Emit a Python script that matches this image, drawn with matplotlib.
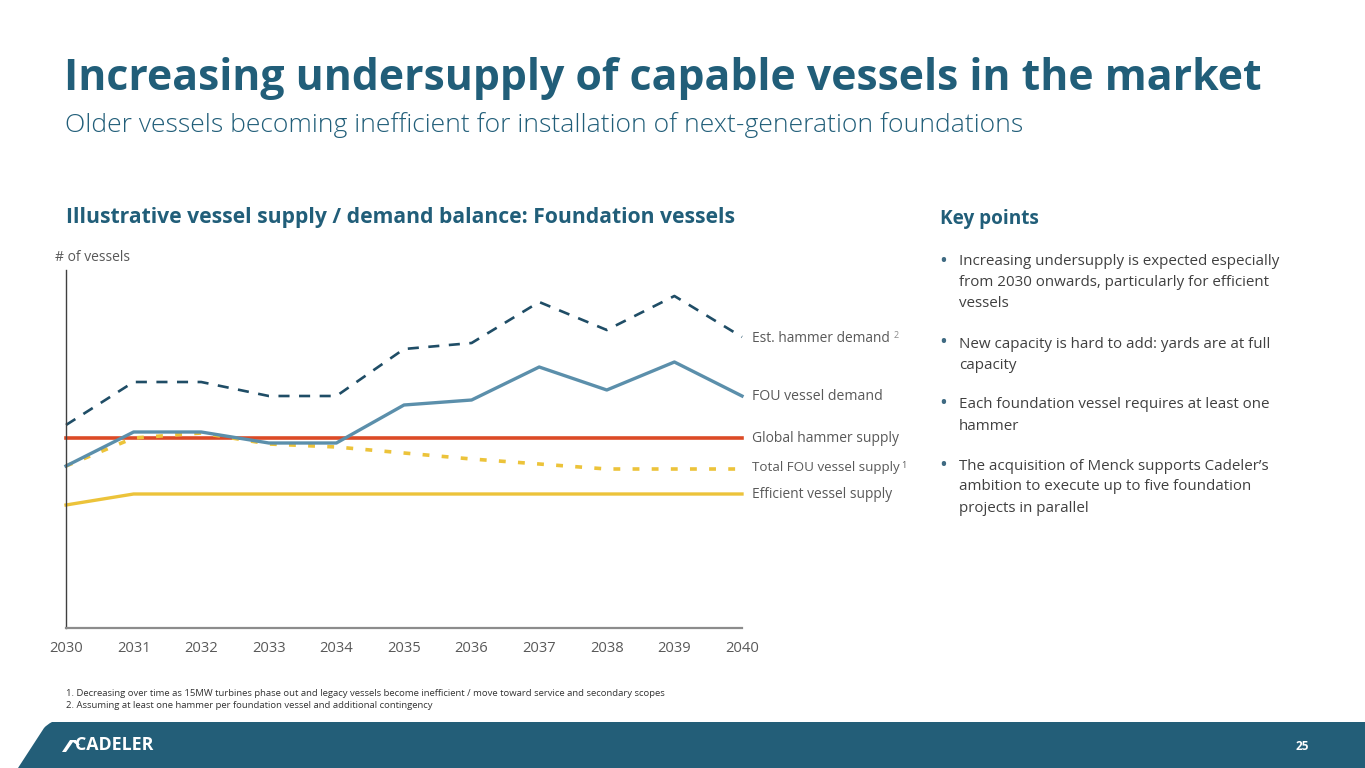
import matplotlib
matplotlib.use("Agg")
import matplotlib.pyplot as plt
from matplotlib.patches import Polygon
from matplotlib.path import Path
import matplotlib.patches as mpatches

# ---------------- data ----------------
years = [2030, 2031, 2032, 2033, 2034, 2035, 2036, 2037, 2038, 2039, 2040]
est_hammer_demand = [20.3, 24.6, 24.6, 23.2, 23.2, 27.9, 28.5, 32.6, 29.8, 33.2, 29.1]
fou_vessel_demand = [16.2, 19.6, 19.6, 18.5, 18.5, 22.3, 22.8, 26.1, 23.8, 26.6, 23.2]
global_hammer_supply = [19.0] * 11
total_fou_supply = [16.2, 19.0, 19.5, 18.4, 18.1, 17.5, 16.9, 16.4, 15.9, 15.9, 15.9]
efficient_supply = [12.3, 13.4, 13.4, 13.4, 13.4, 13.4, 13.4, 13.4, 13.4, 13.4, 13.4]
series_labels = ["Est. hammer demand", "FOU vessel demand", "Global hammer supply",
                 "Total FOU vessel supply", "Efficient vessel supply"]
label_sups = ["2", "", "", "1", ""]
bullets = [
    ["Increasing undersupply is expected especially",
     "from 2030 onwards, particularly for efficient", "vessels"],
    ["New capacity is hard to add: yards are at full", "capacity"],
    ["Each foundation vessel requires at least one", "hammer"],
    ["The acquisition of Menck supports Cadeler\u2019s",
     "ambition to execute up to five foundation", "projects in parallel"],
]
footnotes = [
    "1. Decreasing over time as 15MW turbines phase out and legacy vessels become inefficient / move toward service and secondary scopes",
    "2. Assuming at least one hammer per foundation vessel and additional contingency",
]

W, H = 1365, 768
FONT = "Open Sans"
TEAL = "#215e79"
GRAY = "#595959"
DARK = "#404040"

fig = plt.figure(figsize=(W / 100, H / 100), dpi=100)
fig.patch.set_facecolor("white")
renderer = fig.canvas.get_renderer()


def px(x, y):
    return x / W, 1 - y / H


def ftext(x, y, s, target_w=None, size=10, **kw):
    kw.setdefault("family", FONT)
    t = fig.text(*px(x, y), s, fontsize=size, **kw)
    if target_w is not None:
        w = t.get_window_extent(renderer=renderer).width
        t.set_fontsize(size * target_w / w)
    return t


def right_px(t):
    return t.get_window_extent(renderer=renderer).x1


# titles
ftext(64, 78, "Increasing undersupply of capable vessels in the market", target_w=1196,
      size=28, weight="bold", color=TEAL, va="center")
ftext(65, 125, "Older vessels becoming inefficient for installation of next-generation foundations",
      target_w=960, size=18, color=TEAL, va="center", weight="light")
ftext(66, 217, "Illustrative vessel supply / demand balance: Foundation vessels", target_w=672,
      size=14, weight="bold", color=TEAL, va="center")
ftext(940, 219, "Key points", target_w=98, size=13, weight="bold", color=TEAL, va="center")

# bullets
ys = [262, 344, 405, 466]
for b, y0 in zip(bullets, ys):
    fig.text(*px(939, y0 - 1), "\u2022", fontsize=15, color="#3f6a82", va="center", family=FONT)
    for i, line in enumerate(b):
        t = ftext(959, y0 + 21 * i, line, size=11, color=DARK, va="center")
    if y0 == 262:
        pass
# fit first bullet line width to reference (959 -> 1280)
# (all bullets share one size)
first = [t for t in fig.texts if t.get_text() == bullets[0][0]][0]
scale = 321 / first.get_window_extent(renderer=renderer).width
for t in fig.texts:
    if any(t.get_text() in b for b in bullets):
        t.set_fontsize(t.get_fontsize() * scale)

# footnotes
fn0 = ftext(66, 693, footnotes[0], target_w=596, size=6.6, color="#333333", va="center")
ftext(66, 706, footnotes[1], size=fn0.get_fontsize(), color="#333333", va="center")

# ---------------- chart ----------------
ax_l, ax_r, ax_t, ax_b = 66, 742, 270, 628
ax = fig.add_axes([ax_l / W, 1 - ax_b / H, (ax_r - ax_l) / W, (ax_b - ax_t) / H])
ax.set_xlim(years[0], years[-1])
ax.set_ylim(0, 35.8)
ax.set_facecolor("none")
for s in ["top", "right"]:
    ax.spines[s].set_visible(False)
ax.spines["left"].set_color("#404040")
ax.spines["left"].set_linewidth(1.0)
ax.spines["bottom"].set_color("#8c8c8c")
ax.spines["bottom"].set_linewidth(1.6)
ax.set_yticks([])
ax.set_xticks(years)
ax.set_xticklabels([str(y) for y in years], family=FONT, fontsize=10.6, color=GRAY)
ax.tick_params(axis="x", length=0, pad=9)

ax.plot(years, efficient_supply, color="#ecc33a", lw=2.4, clip_on=False)
ax.plot(years, global_hammer_supply, color="#dc4a26", lw=2.6, clip_on=False)
ax.plot(years, total_fou_supply, color="#ecc33a", lw=2.6, dashes=(1.9, 3.4), clip_on=False)
ax.plot(years, fou_vessel_demand, color="#5b8fab", lw=2.4, clip_on=False)
ax.plot(years, est_hammer_demand, color="#1f4d66", lw=1.9, dashes=(4.2, 3.6), clip_on=False)

ftext(55, 257, "# of vessels", target_w=75, size=10, color=GRAY, va="center")

label_y = [338, 397, 439, 468, 495]
label_w = [137, 130, 147, 147, 139]
for lab, ly, lw_, sup in zip(series_labels, label_y, label_w, label_sups):
    t = ftext(752, ly, lab, target_w=lw_, size=10.3, color=GRAY, va="center")
    if sup:
        x1 = right_px(t)
        fig.text(x1 / W + (4 if sup == "2" else 1) / W, 1 - (ly - 3) / H, sup,
                 fontsize=6.5, color="#8c8c8c" if sup == "2" else GRAY,
                 va="center", family=FONT)

# ---------------- footer ----------------
fax = fig.add_axes([0, 0, 1, 1], zorder=-1)
fax.set_xlim(0, W)
fax.set_ylim(H, 0)
fax.axis("off")
verts = [(18, 768), (44, 728), (47, 724.5), (52, 722), (W, 722), (W, 768), (18, 768)]
codes = [Path.MOVETO, Path.LINETO, Path.CURVE3, Path.CURVE3, Path.LINETO, Path.LINETO, Path.CLOSEPOLY]
fax.add_patch(mpatches.PathPatch(Path(verts, codes), facecolor="#235e78", edgecolor="none"))
# logo mark
fax.add_patch(Polygon([(62, 752), (70, 740), (76, 740), (80, 745), (77, 745), (73, 742), (66, 752)],
                      closed=True, facecolor="white", edgecolor="none"))
ftext(75, 745.5, "CADELER", target_w=78, size=12, weight="bold", color="white", va="center")
ftext(1296, 746, "25", size=8.5, weight="bold", color="white", va="center")

fig.savefig("out.png", dpi=100, facecolor="white")
